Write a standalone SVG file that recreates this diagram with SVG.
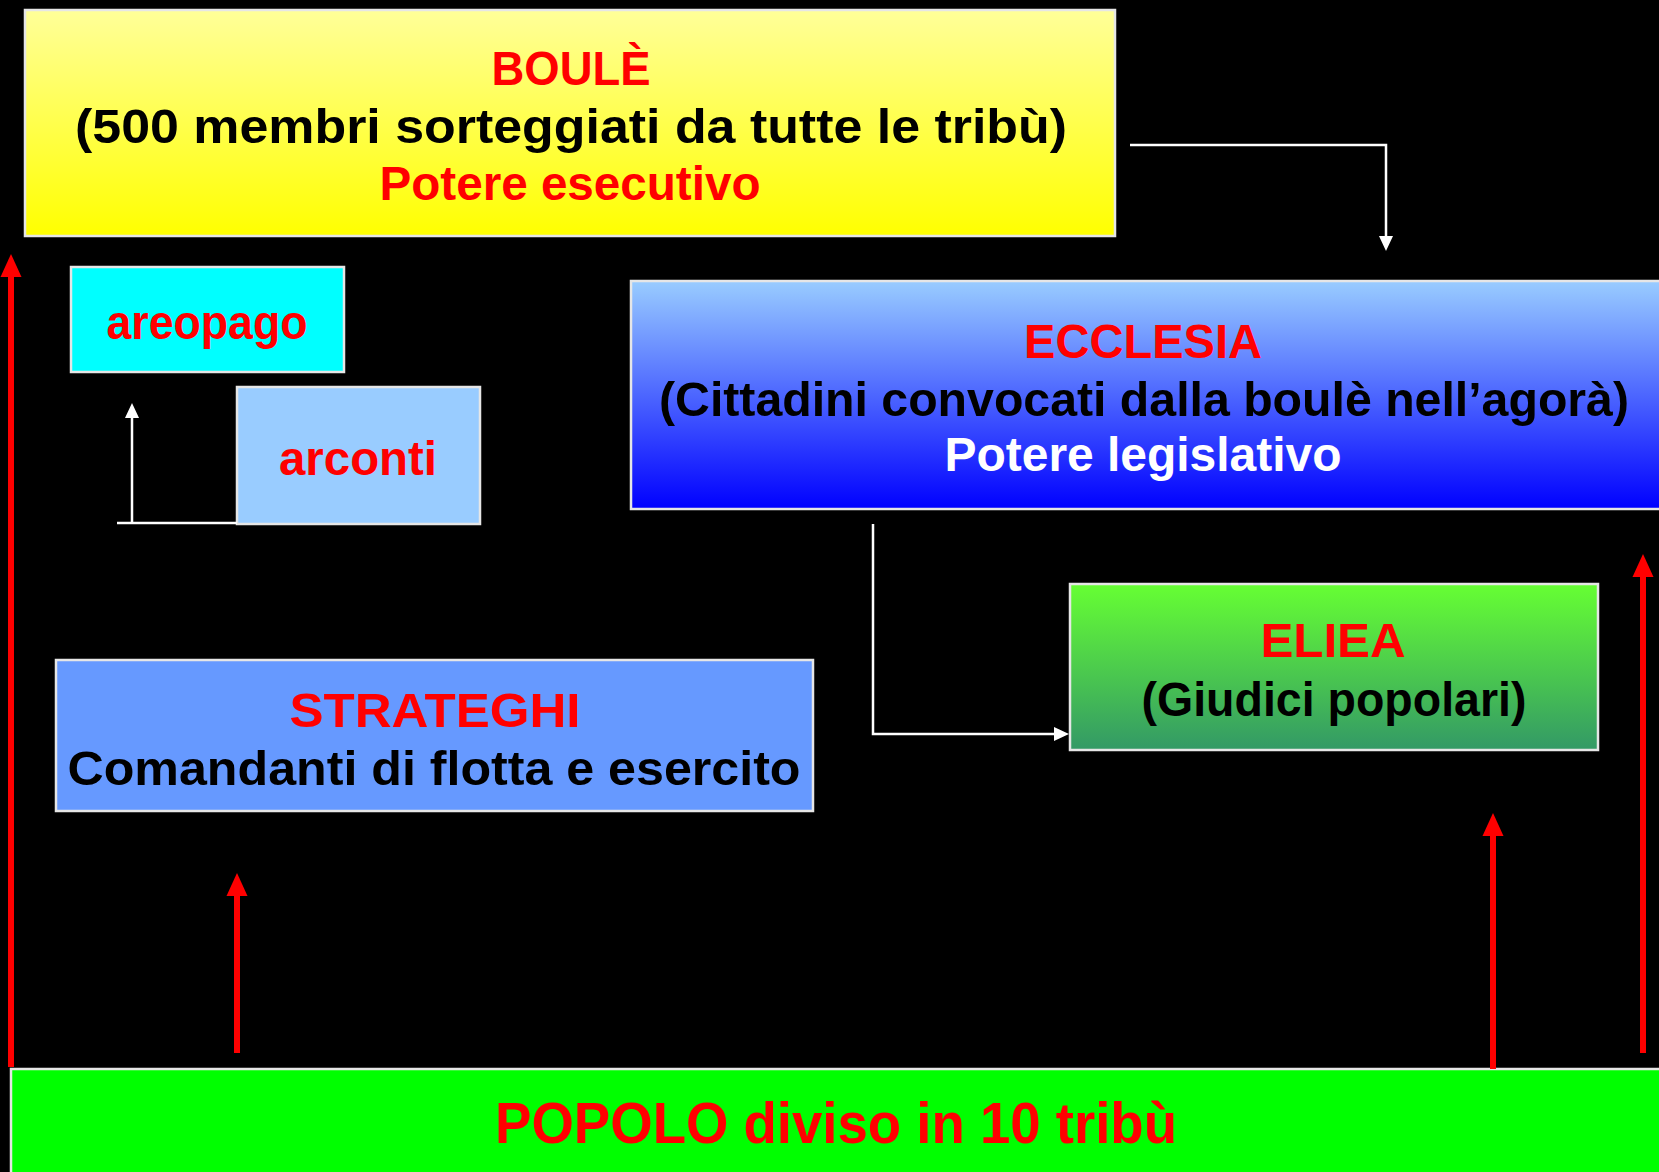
<svg xmlns="http://www.w3.org/2000/svg" width="1659" height="1172" viewBox="0 0 1659 1172">
<style>
.box{stroke:#e6e6e6;stroke-width:2.5}
text{font-family:"Liberation Sans",Arial,sans-serif;font-weight:bold;text-anchor:middle}
.red{fill:#ff0000}
.blk{fill:#000000}
.wht{fill:#ffffff}
.wline{fill:none;stroke:#ffffff;stroke-width:2.5}
.rline{fill:none;stroke:#ff0000;stroke-width:6}
</style>
<defs>
<linearGradient id="gBoule" x1="0" y1="0" x2="0" y2="1"><stop offset="0" stop-color="#ffff99"/><stop offset="1" stop-color="#ffff00"/></linearGradient>
<linearGradient id="gEccl" x1="0" y1="0" x2="0" y2="1"><stop offset="0" stop-color="#99ccff"/><stop offset="1" stop-color="#0000ff"/></linearGradient>
<linearGradient id="gEliea" x1="0" y1="0" x2="0" y2="1"><stop offset="0" stop-color="#66ff33"/><stop offset="1" stop-color="#339966"/></linearGradient>
<marker id="wArrow" markerUnits="userSpaceOnUse" markerWidth="20" markerHeight="20" viewBox="0 -10 20 20" refX="0" refY="0" orient="auto" overflow="visible"><path d="M0,-7 L15,0 L0,7 z" fill="#ffffff"/></marker>
<marker id="rArrow" markerUnits="userSpaceOnUse" markerWidth="30" markerHeight="30" viewBox="0 -15 30 30" refX="0" refY="0" orient="auto" overflow="visible"><path d="M0,-10.5 L23,0 L0,10.5 z" fill="#ff0000"/></marker>
</defs>
<rect x="0" y="0" width="1659" height="1172" fill="#000000"/>

<g id="boule">
<rect class="box" x="25" y="10" width="1090" height="226" fill="url(#gBoule)"/>
<text class="red" x="571" y="85" font-size="48" textLength="159" lengthAdjust="spacingAndGlyphs">BOULÈ</text>
<text class="blk" x="571" y="143" font-size="48" textLength="992" lengthAdjust="spacingAndGlyphs">(500 membri sorteggiati da tutte le tribù)</text>
<text class="red" x="570" y="200" font-size="48" textLength="381" lengthAdjust="spacingAndGlyphs">Potere esecutivo</text>
</g>

<g id="areopago">
<rect class="box" x="71" y="267" width="273" height="105" fill="#00ffff"/>
<text class="red" x="207" y="339" font-size="48" textLength="201" lengthAdjust="spacingAndGlyphs">areopago</text>
</g>

<g id="arconti">
<rect class="box" x="237" y="387" width="243" height="137" fill="#99ccff"/>
<text class="red" x="358" y="475" font-size="48" textLength="158" lengthAdjust="spacingAndGlyphs">arconti</text>
</g>

<g id="ecclesia">
<rect class="box" x="631" y="281" width="1030" height="228" fill="url(#gEccl)"/>
<text class="red" x="1143" y="358" font-size="48" textLength="238" lengthAdjust="spacingAndGlyphs">ECCLESIA</text>
<text class="blk" x="1144" y="416" font-size="48" textLength="970" lengthAdjust="spacingAndGlyphs">(Cittadini convocati dalla boulè nell’agorà)</text>
<text class="wht" x="1143" y="471" font-size="48" textLength="397" lengthAdjust="spacingAndGlyphs">Potere legislativo</text>
</g>

<g id="eliea">
<rect class="box" x="1070" y="584" width="528" height="166" fill="url(#gEliea)"/>
<text class="red" x="1333" y="657" font-size="48" textLength="145" lengthAdjust="spacingAndGlyphs">ELIEA</text>
<text class="blk" x="1334" y="716" font-size="48" textLength="385" lengthAdjust="spacingAndGlyphs">(Giudici popolari)</text>
</g>

<g id="strateghi">
<rect class="box" x="56" y="660" width="757" height="151" fill="#6699ff"/>
<text class="red" x="435" y="727" font-size="48" textLength="291" lengthAdjust="spacingAndGlyphs">STRATEGHI</text>
<text class="blk" x="434" y="785" font-size="48" textLength="733" lengthAdjust="spacingAndGlyphs">Comandanti di flotta e esercito</text>
</g>

<g id="popolo">
<rect class="box" x="11" y="1069" width="1650" height="105" fill="#00ff00"/>
<text class="red" x="836" y="1143" font-size="58" textLength="682" lengthAdjust="spacingAndGlyphs">POPOLO diviso in 10 tribù</text>
</g>

<g id="connectors">
<path class="wline" d="M1130,145 H1386 V236" marker-end="url(#wArrow)"/>
<path class="wline" d="M873,524 V734 H1054" marker-end="url(#wArrow)"/>
<path class="wline" d="M117,523 H237 M132,523 V418" marker-end="url(#wArrow)"/>
<path class="rline" d="M11,1067 V277" marker-end="url(#rArrow)"/>
<path class="rline" d="M237,1053 V896" marker-end="url(#rArrow)"/>
<path class="rline" d="M1493,1069 V836" marker-end="url(#rArrow)"/>
<path class="rline" d="M1643,1053 V577" marker-end="url(#rArrow)"/>
</g>
</svg>
